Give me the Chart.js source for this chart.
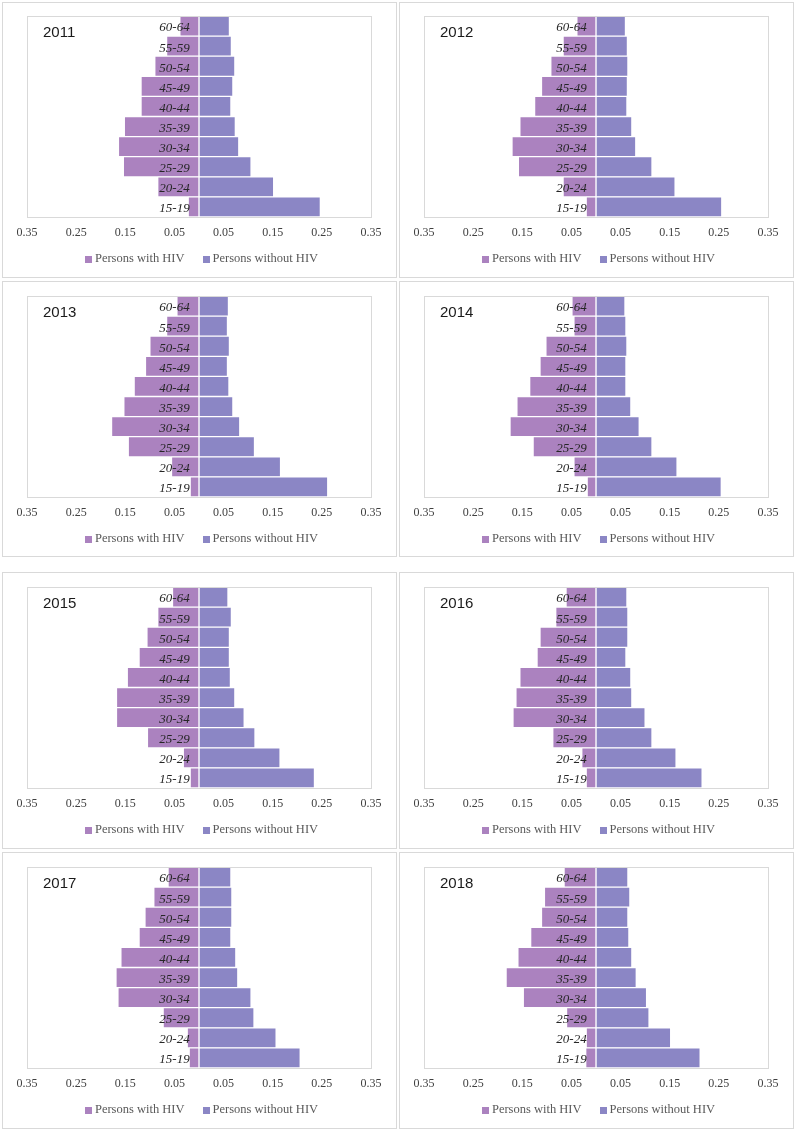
<!DOCTYPE html>
<html>
<head>
<meta charset="utf-8">
<script src="https://cdn.jsdelivr.net/npm/chart.js@4.4.1/dist/chart.umd.min.js"></script>
<style>
  body { margin: 0; background: #fff; }
  #page { position: relative; width: 800px; height: 1133px; }
  .panel { position: absolute; border: 1px solid #d9d9d9; background: #fff; }
  .panel canvas { display: block; }
</style>
</head>
<body>
<div id="page"></div>
<script>
// age groups, top row first
var ageGroups = ['60-64', '55-59', '50-54', '45-49', '40-44', '35-39', '30-34', '25-29', '20-24', '15-19'];
var years = ['2011', '2012', '2013', '2014', '2015', '2016', '2017', '2018'];
var xTicks = [-0.35, -0.25, -0.15, -0.05, 0.05, 0.15, 0.25, 0.35];

// share of persons with HIV per age group
var withHiv2011 = [0.039, 0.066, 0.090, 0.118, 0.118, 0.152, 0.164, 0.154, 0.084, 0.022];
var withHiv2012 = [0.039, 0.067, 0.092, 0.111, 0.125, 0.155, 0.171, 0.158, 0.067, 0.020];
var withHiv2013 = [0.045, 0.066, 0.100, 0.109, 0.132, 0.153, 0.178, 0.144, 0.056, 0.018];
var withHiv2014 = [0.049, 0.045, 0.102, 0.114, 0.135, 0.161, 0.175, 0.128, 0.045, 0.018];
var withHiv2015 = [0.054, 0.084, 0.106, 0.122, 0.146, 0.168, 0.168, 0.105, 0.032, 0.018];
var withHiv2016 = [0.061, 0.082, 0.114, 0.120, 0.155, 0.163, 0.169, 0.088, 0.029, 0.020];
var withHiv2017 = [0.063, 0.092, 0.110, 0.122, 0.159, 0.169, 0.165, 0.073, 0.024, 0.020];
var withHiv2018 = [0.065, 0.105, 0.111, 0.133, 0.159, 0.183, 0.148, 0.060, 0.020, 0.021];

// share of persons without HIV per age group
var withoutHiv2011 = [0.062, 0.066, 0.073, 0.069, 0.065, 0.074, 0.081, 0.106, 0.152, 0.247];
var withoutHiv2012 = [0.060, 0.064, 0.065, 0.064, 0.063, 0.073, 0.081, 0.114, 0.161, 0.256];
var withoutHiv2013 = [0.060, 0.058, 0.062, 0.058, 0.061, 0.069, 0.083, 0.113, 0.166, 0.262];
var withoutHiv2014 = [0.059, 0.061, 0.063, 0.061, 0.061, 0.071, 0.088, 0.114, 0.165, 0.255];
var withoutHiv2015 = [0.059, 0.066, 0.062, 0.062, 0.064, 0.073, 0.092, 0.114, 0.165, 0.235];
var withoutHiv2016 = [0.063, 0.065, 0.065, 0.061, 0.071, 0.073, 0.100, 0.114, 0.163, 0.216];
var withoutHiv2017 = [0.065, 0.067, 0.067, 0.065, 0.075, 0.079, 0.106, 0.112, 0.157, 0.206];
var withoutHiv2018 = [0.065, 0.069, 0.065, 0.067, 0.073, 0.082, 0.103, 0.108, 0.152, 0.212];

var withHiv = [withHiv2011, withHiv2012, withHiv2013, withHiv2014, withHiv2015, withHiv2016, withHiv2017, withHiv2018];
var withoutHiv = [withoutHiv2011, withoutHiv2012, withoutHiv2013, withoutHiv2014, withoutHiv2015, withoutHiv2016, withoutHiv2017, withoutHiv2018];

var HIV_COLOR = '#ab82bf';
var NO_HIV_COLOR = '#8b86c5';

var colLeft = [2, 399];
var rowTop = [2, 281, 572, 852];
var rowHeight = [276, 276, 277, 277];
var rowPadTop = [13, 14, 14, 14];
// age labels sit just left of the zero line (value on the x scale)
var AGE_LABEL_ANCHOR = -0.019;

// frame + year + legend, drawn after the bars
var panelDecor = {
  id: 'panelDecor',
  afterDraw: function (chart) {
    var ctx = chart.ctx, area = chart.chartArea;
    ctx.save();
    ctx.strokeStyle = '#d9d9d9';
    ctx.lineWidth = 1;
    ctx.strokeRect(Math.round(area.left) + 0.5, Math.round(area.top) + 0.5,
      Math.round(area.right - area.left), Math.round(area.bottom - area.top));

    ctx.fillStyle = '#1a1a1a';
    ctx.font = '15px "Liberation Sans", Arial, sans-serif';
    ctx.textBaseline = 'middle';
    ctx.textAlign = 'left';
    ctx.fillText(chart.options.plugins.panelDecor.year, area.left + 16, area.top + 17);

    // legend
    var sets = chart.data.datasets, box = 7, gap = 3, space = 18;
    ctx.font = '12.5px "Liberation Serif", "Times New Roman", serif';
    var total = 0, i;
    for (i = 0; i < sets.length; i++) {
      total += box + gap + ctx.measureText(sets[i].label).width;
    }
    total += space * (sets.length - 1);
    var x = chart.width / 2 + 2 - total / 2, y = area.bottom + 42;
    for (i = 0; i < sets.length; i++) {
      ctx.fillStyle = sets[i].backgroundColor;
      ctx.fillRect(Math.round(x), Math.round(y - box / 2), box, box);
      x += box + gap;
      ctx.fillStyle = '#595959';
      ctx.fillText(sets[i].label, x, y);
      x += ctx.measureText(sets[i].label).width + space;
    }
    ctx.restore();
  }
};

function makePanel(idx) {
  var col = idx % 2, row = Math.floor(idx / 2);
  var div = document.createElement('div');
  div.className = 'panel';
  div.style.left = colLeft[col] + 'px';
  div.style.top = rowTop[row] + 'px';
  div.style.width = '393px';
  div.style.height = (rowHeight[row] - 2) + 'px';
  var canvas = document.createElement('canvas');
  canvas.width = 393;
  canvas.height = rowHeight[row] - 2;
  div.appendChild(canvas);
  document.getElementById('page').appendChild(div);

  new Chart(canvas.getContext('2d'), {
    type: 'bar',
    data: {
      labels: ageGroups,
      datasets: [{
        label: 'Persons with HIV',
        data: withHiv[idx].map(function (v) { return -v; }),
        backgroundColor: HIV_COLOR
      }, {
        label: 'Persons without HIV',
        data: withoutHiv[idx],
        backgroundColor: NO_HIV_COLOR
      }]
    },
    options: {
      indexAxis: 'y',
      responsive: false,
      animation: false,
      layout: { padding: { top: rowPadTop[row], left: 24, right: 25, bottom: 0 } },
      datasets: {
        bar: {
          barPercentage: 1,
          categoryPercentage: 1,
          borderColor: '#ffffff',
          borderWidth: 1,
          borderSkipped: false
        }
      },
      scales: {
        x: {
          stacked: true,
          min: -0.35,
          max: 0.35,
          afterFit: function (scale) { scale.height = rowHeight[row] - 2 - rowPadTop[row] - 201; },
          afterBuildTicks: function (scale) {
            scale.ticks = xTicks.map(function (v) { return { value: v }; });
          },
          grid: { display: false, drawTicks: false },
          border: { display: false },
          ticks: {
            padding: 9,
            color: '#404040',
            font: { family: '"Liberation Serif", "Times New Roman", serif', size: 12 },
            callback: function (v) { return Math.abs(v).toFixed(2); }
          }
        },
        y: {
          stacked: true,
          position: { x: AGE_LABEL_ANCHOR },
          afterFit: function (scale) {
            scale.paddingTop = 0;
            scale.paddingBottom = 0;
          },
          grid: { display: false, drawTicks: false },
          border: { display: false },
          ticks: {
            z: 1,
            labelOffset: 2,
            color: '#262626',
            font: { family: '"Liberation Serif", "Times New Roman", serif', size: 13, style: 'italic' }
          }
        }
      },
      plugins: {
        legend: { display: false },
        tooltip: { enabled: false },
        panelDecor: { year: years[idx] }
      }
    },
    plugins: [panelDecor]
  });
}

for (var i = 0; i < years.length; i++) {
  makePanel(i);
}
</script>
</body>
</html>
